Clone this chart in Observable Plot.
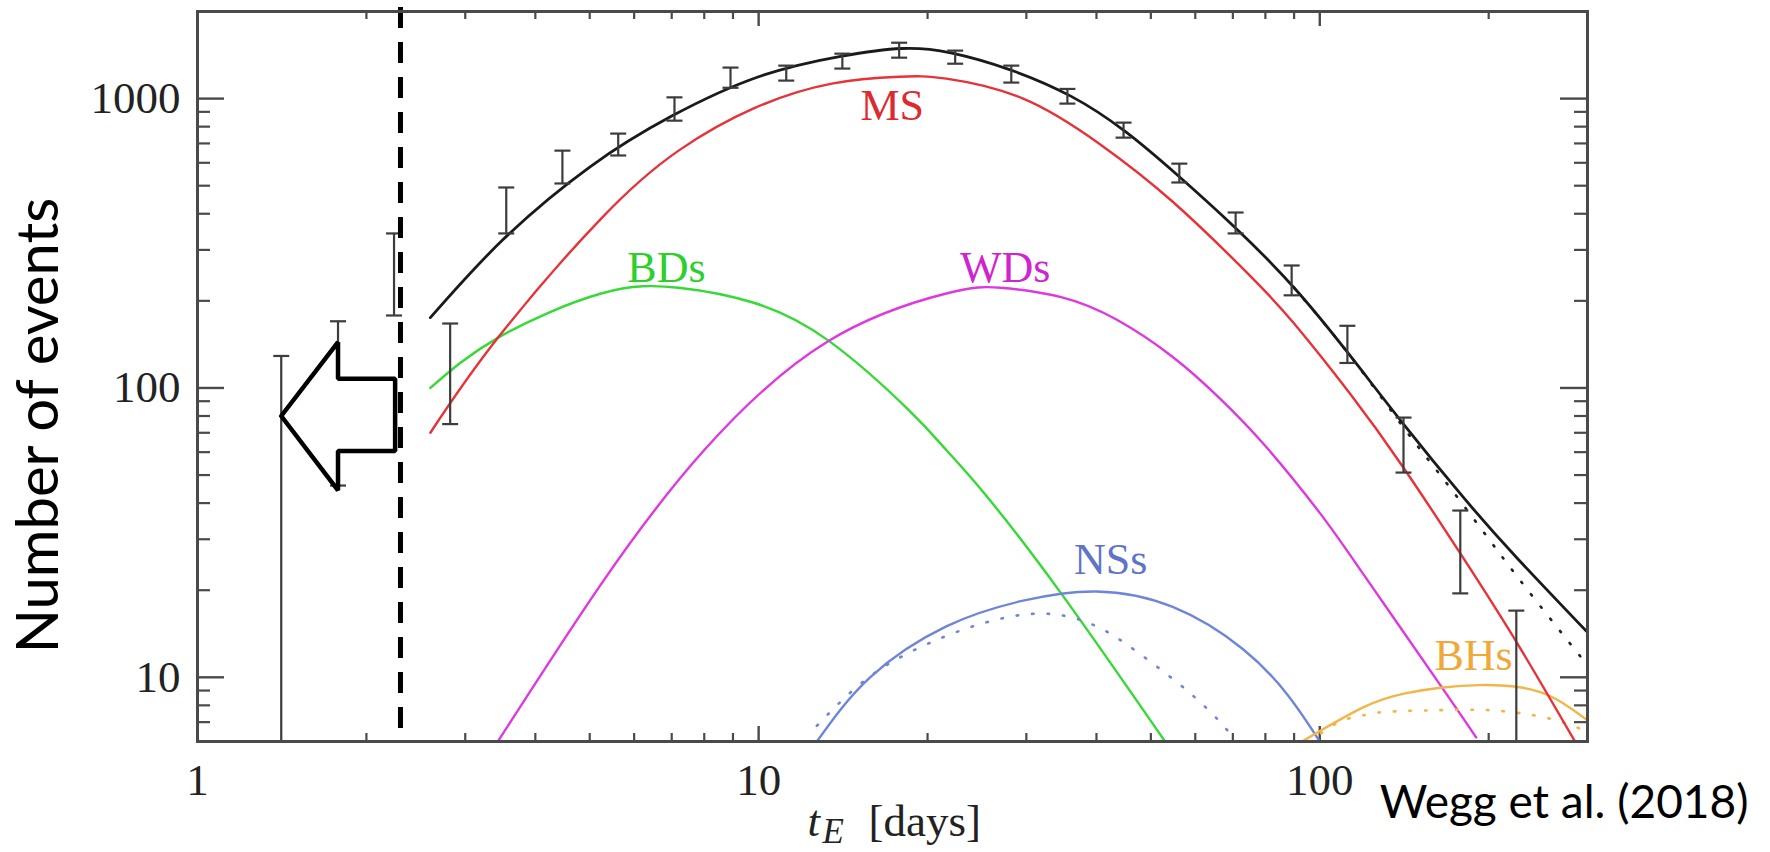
<!DOCTYPE html>
<html>
<head>
<meta charset="utf-8">
<script src="https://cdn.jsdelivr.net/npm/d3@7"></script>
<script src="https://cdn.jsdelivr.net/npm/@observablehq/plot@0.6"></script>
<style>
  html, body { margin: 0; padding: 0; background: #fff; }
  #chart svg { display: block; }
</style>
</head>
<body>
<div id="chart"></div>
<script>
// Microlensing event timescale distribution: observed counts per t_E bin
// and the model split into lens populations.

// Observed bins: centre, lower and upper end of the error bar
// (a lower end of 0.5 means the bar runs below the plotted range).
const binT  = [1.41, 1.78, 2.24, 2.82, 3.55, 4.47, 5.62, 7.08, 8.91, 11.2, 14.1, 17.8,
               22.4, 28.2, 35.5, 44.7, 56.2, 70.8, 89.1, 112, 141, 178, 224];
const binLo = [0.5, 46, 178, 75, 342, 509, 636, 839, 1090, 1154, 1270, 1385,
               1320, 1136, 961, 733, 513, 342, 209, 122, 51, 19.5, 0.5];
const binHi = [129, 170, 342, 167, 493, 661, 757, 1010, 1280, 1300, 1430, 1560,
               1465, 1300, 1080, 826, 596, 404, 265, 164, 79, 37.7, 17];

// Model curves as [t_E, N] samples
const totalCurve = [[2.6,175],[3.5,325],[5,580],[7,870],[10,1190],[14,1400],[18,1490],[22,1440],
  [28,1260],[36,1020],[45,770],[56,540],[71,355],[90,222],[113,130],[141,75],[180,42],[224,26],[300,14.3]];
const totalAltCurve = [[90,222],[113,130],[141,73],[164,50],[193,33],[224,22.5],[264,15],[300,11]];
const msCurve = [[2.6,70],[3.43,149],[5.24,385],[7.2,661],[9.8,925],[13.5,1126],[17.8,1190],
  [21.6,1172],[29.6,1000],[40.4,700],[54.7,440],[75,245],[90,167],[113,96],[141,53],[181,25.5],
  [226,12.9],[285,6]];
const bdCurve = [[2.6,100],[3.43,149],[5.24,212],[7.2,222],[9.8,197],[13.3,146],[18.5,84],
  [21.6,61],[25.3,43],[34.6,19.5],[53,6]];
const wdCurve = [[3.43,6],[5.24,21],[8.0,61],[13.3,145],[21.6,212],[27,222],[34.6,206],
  [43.5,172],[54.7,128],[66,93],[80,63],[100,37],[120,22.5],[164,9.4],[190,6.2]];
const nsCurve = [[12.7,6],[15.8,10],[21.6,15],[29.6,18.4],[40,19.8],[54.7,17.5],[73,12.5],
  [88,8.6],[100,6]];
const nsAltCurve = [[12.7,6.8],[15.5,9.8],[19.4,12.7],[24.9,15.3],[32,16.6],[40,15.0],[48.5,11.8],
  [58,9.0],[66,7.1],[71,6]];
const bhCurve = [[93,6],[120,7.9],[142,8.8],[164,9.2],[193,9.4],[230,9.2],[264,8.4],[300,7.1]];
const bhAltCurve = [[100.5,6.4],[110,7.1],[120,7.4],[131.6,7.6],[164,7.7],[200,7.7],[240,7.4],
  [270,7.0],[300,6.5]];

// Population names placed beside their curves
const seriesNames  = ["MS", "BDs", "WDs", "NSs", "BHs"];
const seriesLabelT = [17.3, 6.85, 27.5, 42.4, 188];
const seriesLabelN = [946, 259, 259, 25.4, 11.9];

// Cut in t_E and the left-pointing arrow outline
const cutT = 2.3;
const arrowT = [1.41, 1.78, 1.78, 2.25, 2.25, 1.78, 1.78, 1.41];
const arrowN = [80, 144, 107.5, 107.5, 60.5, 60.5, 44.3, 80];

// Axis ticks
const xTickLabels = [1, 10, 100];
const yTickLabels = [10, 100, 1000];
const xMinorTicks = [2, 3, 4, 5, 6, 7, 8, 9, 20, 30, 40, 50, 60, 70, 80, 90, 200];
const yMinorTicks = [7, 8, 9, 20, 30, 40, 50, 60, 70, 80, 90, 200, 300, 400, 500, 600, 700, 800, 900];

// ---- layout and styling ----
const W = 1770, H = 852;
const mL = 197, mR = 183, mT = 11, mB = 111;
const fw = W - mL - mR, fh = H - mT - mB;
const serif = "Liberation Serif, Times New Roman, serif";
const sans = "Lato, Open Sans, sans-serif";
const axisColor = "#4a4a4a";
const errColor = "#3c3c3c";
const colors = {MS: "#e63238", BDs: "#36d936", WDs: "#de38de", NSs: "#6f86d8", BHs: "#f3b548"};
const labelColors = {MS: "#dd2a30", BDs: "#2ccf2c", WDs: "#cf25cf", NSs: "#5f74c6", BHs: "#f0a838"};

const bins = binT.map((t, i) => ({t, lo: binLo[i], hi: binHi[i]}));
const arrow = arrowT.map((t, i) => ({t, n: arrowN[i]}));
const seriesLabels = seriesNames.map((name, i) => ({name, t: seriesLabelT[i], n: seriesLabelN[i], color: labelColors[name]}));

// horizontal cap used at the ends of the error bars
const capSymbol = {
  draw(context, size) {
    const w = Math.sqrt(size / Math.PI);
    context.moveTo(-w, 0);
    context.lineTo(w, 0);
  }
};

const px = d => d[0], py = d => d[1];
const curve = (data, stroke, extra = {}) =>
  Plot.line(data, {x: px, y: py, stroke, strokeWidth: 2.4, curve: "natural", clip: true, ...extra});
const dotted = {strokeDasharray: "1.5,14", strokeLinecap: "round", strokeWidth: 2.6};

const chart = Plot.plot({
  width: W,
  height: H,
  marginLeft: mL,
  marginRight: mR,
  marginTop: mT,
  marginBottom: mB,
  style: {fontFamily: serif, fontSize: "45px", color: "#222", background: "#fff"},
  x: {type: "log", domain: [1, 300], label: null},
  y: {type: "log", domain: [6, 2000], label: null},
  marks: [
    // inward ticks on all four sides
    Plot.tickX(xTickLabels, {x: d => d, insetTop: fh - 15, stroke: axisColor, strokeWidth: 2.4}),
    Plot.tickX(xTickLabels, {x: d => d, insetBottom: fh - 15, stroke: axisColor, strokeWidth: 2.4}),
    Plot.tickX(xMinorTicks, {x: d => d, insetTop: fh - 8, stroke: axisColor, strokeWidth: 2.2}),
    Plot.tickX(xMinorTicks, {x: d => d, insetBottom: fh - 8, stroke: axisColor, strokeWidth: 2.2}),
    Plot.tickY(yTickLabels, {y: d => d, insetRight: fw - 27, stroke: axisColor, strokeWidth: 2.4}),
    Plot.tickY(yTickLabels, {y: d => d, insetLeft: fw - 27, stroke: axisColor, strokeWidth: 2.4}),
    Plot.tickY(yMinorTicks, {y: d => d, insetRight: fw - 13, stroke: axisColor, strokeWidth: 2.2}),
    Plot.tickY(yMinorTicks, {y: d => d, insetLeft: fw - 13, stroke: axisColor, strokeWidth: 2.2}),

    Plot.axisX({ticks: xTickLabels, tickSize: 0, tickPadding: 22, tickFormat: d => String(d),
      fontSize: 45, fontFamily: serif, fill: "#222", label: null}),
    Plot.axisY({ticks: yTickLabels, tickSize: 0, tickPadding: 17, tickFormat: d => String(d),
      fontSize: 45, fontFamily: serif, fill: "#222", label: null}),

    // model components
    curve(bdCurve, colors.BDs),
    curve(wdCurve, colors.WDs),
    curve(nsAltCurve, colors.NSs, dotted),
    curve(nsCurve, colors.NSs),
    curve(bhAltCurve, colors.BHs, dotted),
    curve(bhCurve, colors.BHs),
    curve(msCurve, colors.MS),
    curve(totalAltCurve, "#222", dotted),
    curve(totalCurve, "#1a1a1a", {strokeWidth: 2.8}),

    // observed counts
    Plot.ruleX(bins, {x: "t", y1: "lo", y2: "hi", stroke: errColor, strokeWidth: 2.2, clip: true}),
    Plot.dot(bins, {x: "t", y: "hi", symbol: capSymbol, r: 8, stroke: errColor, strokeWidth: 2.2, fill: "none"}),
    Plot.dot(bins.filter(d => d.lo >= 6), {x: "t", y: "lo", symbol: capSymbol, r: 8, stroke: errColor, strokeWidth: 2.2, fill: "none"}),

    // population labels
    Plot.text(seriesLabels, {x: "t", y: "n", text: "name", fill: "color", fontSize: 44, fontFamily: serif, lineAnchor: "middle"}),

    // arrow and the t_E cut
    Plot.line(arrow, {x: "t", y: "n", stroke: "#000", fill: "#fff", strokeWidth: 4.5, strokeLinejoin: "miter", curve: "linear"}),
    Plot.ruleX([cutT], {x: d => d, stroke: "#000", strokeWidth: 5, strokeDasharray: "21,14", insetTop: -4}),

    Plot.frame({stroke: axisColor, strokeWidth: 3}),

    // axis titles and credit
    Plot.text(["t"], {text: d => d, frameAnchor: "bottom", dx: -85, dy: 94, textAnchor: "start", lineAnchor: "bottom",
      fontStyle: "italic", fontSize: 45, fontFamily: serif, fill: "#222"}),
    Plot.text(["E"], {text: d => d, frameAnchor: "bottom", dx: -70, dy: 101, textAnchor: "start", lineAnchor: "bottom",
      fontStyle: "italic", fontSize: 35, fontFamily: serif, fill: "#222"}),
    Plot.text(["[days]"], {text: d => d, frameAnchor: "bottom", dx: -24, dy: 94, textAnchor: "start", lineAnchor: "bottom",
      fontSize: 45, fontFamily: serif, fill: "#222"}),
    Plot.text(["Number of events"], {text: d => d, frameAnchor: "left", dx: -140, dy: 49, rotate: -90,
      textAnchor: "middle", lineAnchor: "bottom", fontSize: 58, fontFamily: sans, fill: "#000"}),
    Plot.text(["Wegg et al. (2018)"], {text: d => d, frameAnchor: "bottom-right", dx: 161, dy: 76,
      textAnchor: "end", lineAnchor: "bottom", fontSize: 46, fontFamily: sans, fill: "#000"})
  ]
});

document.getElementById("chart").appendChild(chart);
</script>
</body>
</html>
